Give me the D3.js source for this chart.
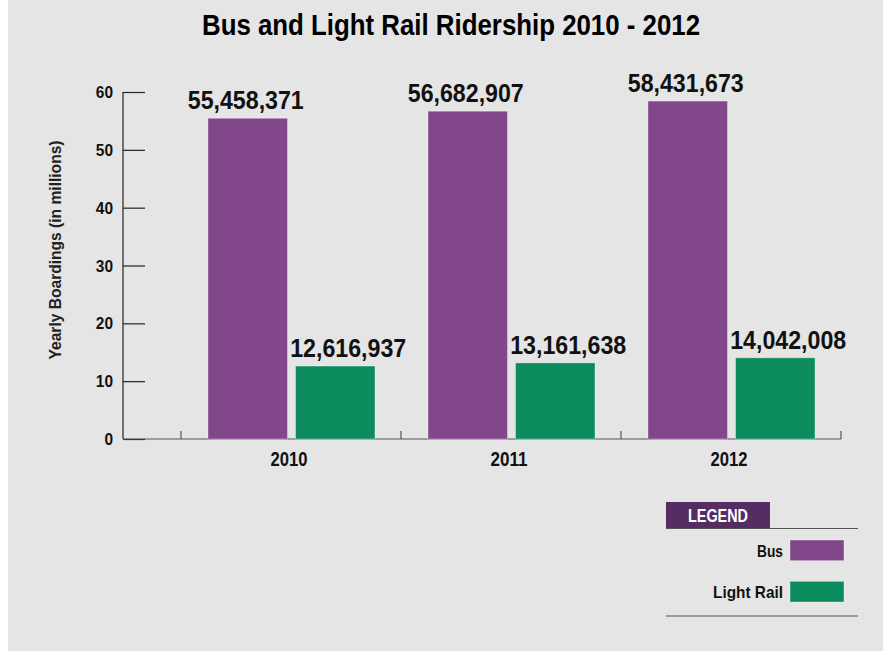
<!DOCTYPE html>
<html>
<head>
<meta charset="utf-8">
<script src="https://cdn.jsdelivr.net/npm/d3@7"></script>
<style>
  html, body { margin: 0; padding: 0; background: #ffffff; }
  svg { display: block; }
  text { font-family: "Liberation Sans", Arial, sans-serif; }
</style>
</head>
<body>
<svg id="chart" width="885" height="651"></svg>
<script>
const years = ["2010", "2011", "2012"];
const seriesNames = ["Bus", "Light Rail"];
const busValues = [55458371, 56682907, 58431673];
const railValues = [12616937, 13161638, 14042008];
const yTickValues = [0, 10, 20, 30, 40, 50, 60];
const titleText = "Bus and Light Rail Ridership 2010 - 2012";
const yAxisTitle = "Yearly Boardings (in millions)";
const colors = { "Bus": "#82468a", "Light Rail": "#0c8c5c" };

const svg = d3.select("#chart");
const W = 885, H = 651;

// condensed look: squeeze glyphs to measured widths
function squeeze(sel, wFn) {
  sel.attr("textLength", wFn).attr("lengthAdjust", "spacingAndGlyphs");
}

// panel background
svg.append("rect").attr("x", 8).attr("y", 0).attr("width", 875).attr("height", H).attr("fill", "#e5e5e5");

const y = d3.scaleLinear().domain([0, 60]).range([439, 92]);
const x = d3.scaleBand().domain(years).range([181, 841]).paddingInner(0).paddingOuter(0);
const xs = d3.scaleBand().domain(seriesNames).range([27, 194]).paddingInner(0.0914).paddingOuter(0);
const axisLeftX = 123;

// title
svg.append("text").attr("x", 451).attr("y", 35).attr("text-anchor", "middle")
  .attr("font-size", 30).attr("font-weight", "bold").attr("fill", "#000").text(titleText)
  .call(squeeze, 498);

// y axis
const yAxis = d3.axisRight(y).tickValues(yTickValues).tickSize(22).tickFormat("");
const gy = svg.append("g").attr("transform", `translate(${axisLeftX},0)`).call(yAxis);
gy.select(".domain").remove();
gy.selectAll(".tick line").attr("stroke", "#222").attr("stroke-width", 1.2);
gy.append("line").attr("x1", 0).attr("x2", 0).attr("y1", y(60)).attr("y2", y(0)).attr("stroke", "#222").attr("stroke-width", 1.2);
// y tick labels
svg.append("g").selectAll("text").data(yTickValues).join("text")
  .attr("x", 113).attr("y", d => y(d)).attr("dy", "0.36em")
  .attr("text-anchor", "end").attr("font-size", 17).attr("font-weight", "bold").attr("fill", "#111")
  .text(d => d)
  .call(squeeze, d => String(d).length * 8.6);

// y axis title
svg.append("text").attr("transform", "translate(61,250) rotate(-90)")
  .attr("text-anchor", "middle").attr("font-size", 16).attr("font-weight", "bold").attr("fill", "#222")
  .text(yAxisTitle)
  .call(squeeze, 219);

// x axis baseline with upward ticks at group boundaries
svg.append("line").attr("x1", axisLeftX).attr("x2", x.range()[1]).attr("y1", y(0)).attr("y2", y(0))
  .attr("stroke", "#555").attr("stroke-width", 1.2);
const boundaries = years.map(d => x(d)).concat([x.range()[1]]);
svg.append("g").selectAll("line").data(boundaries).join("line")
  .attr("x1", d => d).attr("x2", d => d).attr("y1", y(0)).attr("y2", y(0) - 8)
  .attr("stroke", "#555").attr("stroke-width", 1.2);
// x labels
svg.append("g").selectAll("text").data(years).join("text")
  .attr("x", d => x(d) + x.bandwidth() / 2 - 2).attr("y", 466).attr("text-anchor", "middle")
  .attr("font-size", 20).attr("font-weight", "bold").attr("fill", "#111").text(d => d)
  .call(squeeze, 37);

// bars
const rows = years.map((yr, i) => ({ year: yr, values: [
  { name: "Bus", value: busValues[i] },
  { name: "Light Rail", value: railValues[i] }
]}));
const fmt = d3.format(",");
const groups = svg.append("g").selectAll("g").data(rows).join("g")
  .attr("transform", d => `translate(${x(d.year)},0)`);
groups.selectAll("rect").data(d => d.values).join("rect")
  .attr("x", d => xs(d.name)).attr("width", xs.bandwidth())
  .attr("y", d => y(d.value / 1e6)).attr("height", d => y(0) - y(d.value / 1e6))
  .attr("fill", d => colors[d.name])
  .attr("stroke", "rgba(255,255,255,0.35)").attr("stroke-width", 1);
groups.selectAll("text").data(d => d.values).join("text")
  .attr("x", d => xs(d.name) + xs.bandwidth() / 2 + (d.name === "Bus" ? -2 : 13))
  .attr("y", d => y(d.value / 1e6) - 9)
  .attr("text-anchor", "middle").attr("font-size", 26).attr("font-weight", "bold")
  .attr("fill", "#111").text(d => fmt(d.value))
  .call(squeeze, 116);

// legend
const lg = svg.append("g");
lg.append("rect").attr("x", 666).attr("y", 502).attr("width", 104).attr("height", 27).attr("fill", "#552d62");
lg.append("text").attr("x", 718).attr("y", 522).attr("text-anchor", "middle").attr("font-size", 18)
  .attr("font-weight", "bold").attr("fill", "#fff").text("LEGEND").call(squeeze, 60);
lg.append("line").attr("x1", 666).attr("x2", 858).attr("y1", 528.5).attr("y2", 528.5).attr("stroke", "#555").attr("stroke-width", 1.2);
lg.append("line").attr("x1", 666).attr("x2", 858).attr("y1", 616).attr("y2", 616).attr("stroke", "#555").attr("stroke-width", 1.2);
const legY = d3.scaleBand().domain(seriesNames).range([540, 602]).paddingInner(0.5);
const legW = { "Bus": 26, "Light Rail": 70 };
const items = lg.selectAll("g.item").data(seriesNames).join("g").attr("class", "item");
items.append("rect").attr("x", 790).attr("y", d => legY(d)).attr("width", 54).attr("height", legY.bandwidth())
  .attr("fill", d => colors[d]).attr("stroke", "rgba(255,255,255,0.35)");
items.append("text").attr("x", 783).attr("y", d => legY(d) + legY.bandwidth() / 2).attr("dy", "0.38em")
  .attr("text-anchor", "end").attr("font-size", 17).attr("font-weight", "bold").attr("fill", "#111").text(d => d)
  .call(squeeze, d => legW[d]);
</script>
</body>
</html>
